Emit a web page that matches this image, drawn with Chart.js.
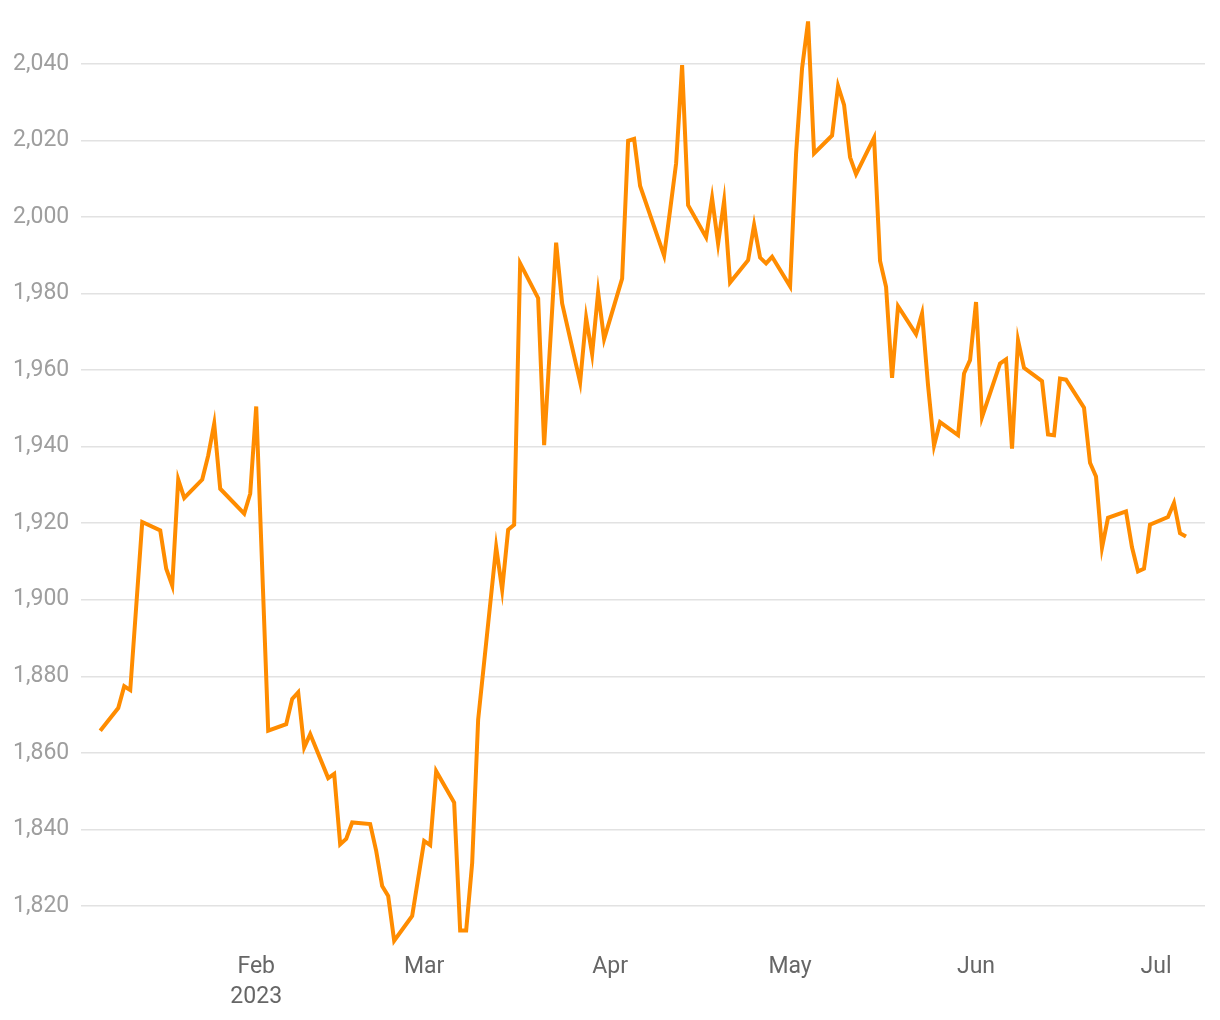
<!DOCTYPE html>
<html>
<head>
<meta charset="utf-8">
<script src="https://cdn.jsdelivr.net/npm/chart.js@4"></script>
<style>
  html, body { margin: 0; padding: 0; background: #fff; }
  #wrap { width: 1220px; height: 1020px; }
</style>
</head>
<body>
<div id="wrap"><canvas id="priceChart"></canvas></div>
<script>
// daily closing values
const dates = [
  '2023-01-06','2023-01-09','2023-01-10','2023-01-11','2023-01-13','2023-01-16','2023-01-17','2023-01-18',
  '2023-01-19','2023-01-20','2023-01-23','2023-01-24','2023-01-25','2023-01-26','2023-01-30','2023-01-31',
  '2023-02-01','2023-02-03','2023-02-06','2023-02-07','2023-02-08','2023-02-09','2023-02-10','2023-02-13',
  '2023-02-14','2023-02-15','2023-02-16','2023-02-17','2023-02-20','2023-02-21','2023-02-22','2023-02-23',
  '2023-02-24','2023-02-27','2023-03-01','2023-03-02','2023-03-03','2023-03-06','2023-03-07','2023-03-08',
  '2023-03-09','2023-03-10','2023-03-13','2023-03-14','2023-03-15','2023-03-16','2023-03-17','2023-03-20',
  '2023-03-21','2023-03-23','2023-03-24','2023-03-27','2023-03-28','2023-03-29','2023-03-30','2023-03-31',
  '2023-04-03','2023-04-04','2023-04-05','2023-04-06','2023-04-10','2023-04-11','2023-04-12','2023-04-13',
  '2023-04-14','2023-04-17','2023-04-18','2023-04-19','2023-04-20','2023-04-21','2023-04-24','2023-04-25',
  '2023-04-26','2023-04-27','2023-04-28','2023-05-01','2023-05-02','2023-05-03','2023-05-04','2023-05-05',
  '2023-05-08','2023-05-09','2023-05-10','2023-05-11','2023-05-12','2023-05-15','2023-05-16','2023-05-17',
  '2023-05-18','2023-05-19','2023-05-22','2023-05-23','2023-05-24','2023-05-25','2023-05-26','2023-05-29',
  '2023-05-30','2023-05-31','2023-06-01','2023-06-02','2023-06-05','2023-06-06','2023-06-07','2023-06-08',
  '2023-06-09','2023-06-12','2023-06-13','2023-06-14','2023-06-15','2023-06-16','2023-06-19','2023-06-20',
  '2023-06-21','2023-06-22','2023-06-23','2023-06-26','2023-06-27','2023-06-28','2023-06-29','2023-06-30',
  '2023-07-03','2023-07-04','2023-07-05','2023-07-06'
];
const prices = [
  1865.8,1871.7,1877.4,1876.4,1920.3,1918.1,1908.1,1903.7,
  1931.4,1926.6,1931.4,1937.7,1946.0,1929.0,1922.5,1927.7,
  1950.5,1865.8,1867.5,1874.1,1875.8,1861.4,1864.9,1853.4,
  1854.5,1836.1,1837.5,1841.8,1841.4,1834.4,1825.2,1822.6,
  1810.9,1817.4,1837.0,1835.9,1855.2,1847.0,1813.6,1813.6,
  1831.2,1868.7,1913.8,1902.6,1918.3,1919.6,1987.9,1978.8,
  1940.4,1993.3,1977.4,1956.8,1973.7,1964.2,1980.3,1968.1,
  1983.9,2019.9,2020.4,2008.1,1989.9,2001.8,2014.0,2039.7,
  2003.1,1994.7,2005.0,1993.1,2004.2,1982.9,1988.7,1997.9,
  1989.4,1987.9,1989.6,1981.9,2016.6,2038.9,2051.1,2016.6,
  2021.3,2034.2,2029.3,2015.6,2011.2,2020.7,1988.5,1981.8,
  1958.0,1976.7,1969.4,1974.8,1956.0,1940.3,1946.4,1943.0,
  1959.1,1962.6,1977.8,1947.7,1961.7,1962.8,1939.5,1967.8,
  1960.6,1957.1,1943.2,1943.0,1957.8,1957.5,1950.2,1935.8,
  1932.2,1913.6,1921.4,1923.1,1913.7,1907.4,1908.1,1919.6,
  1921.6,1925.3,1917.4,1916.5
];
const monthTicks = ['2023-02-01','2023-03-01','2023-04-01','2023-05-01','2023-06-01','2023-07-01'];
const monthLabels = [['Feb','2023'],'Mar','Apr','May','Jun','Jul'];

// days since 1 Jan 2023
const dayNum = s => {
  const [y, m, d] = s.split('-').map(Number);
  return (Date.UTC(y, m - 1, d) - Date.UTC(2023, 0, 1)) / 86400000;
};

const points = dates.map((d, i) => ({ x: dayNum(d), y: prices[i] }));
const tickDays = monthTicks.map(dayNum);

const ctx = document.getElementById('priceChart').getContext('2d');
new Chart(ctx, {
  type: 'line',
  data: {
    datasets: [{
      data: points,
      borderColor: '#ff8c00',
      borderWidth: 4,
      pointRadius: 0,
      tension: 0,
      fill: false,
      clip: 8
    }]
  },
  options: {
    responsive: true,
    maintainAspectRatio: false,
    animation: false,
    layout: { padding: { left: 1, right: 15, top: 18, bottom: 0 } },
    plugins: {
      legend: { display: false },
      tooltip: { enabled: false }
    },
    scales: {
      x: {
        type: 'linear',
        min: 1.83,
        max: 189.17,
        border: { display: false },
        grid: { display: false, drawTicks: false },
        afterBuildTicks: scale => {
          scale.ticks = tickDays.map(v => ({ value: v }));
        },
        ticks: {
          autoSkip: false,
          maxRotation: 0,
          padding: 8,
          color: '#666',
          font: { family: 'Roboto', size: 23, lineHeight: 1.3 },
          callback: (value, index) => monthLabels[index]
        }
      },
      y: {
        min: 1810,
        max: 2052,
        border: { display: false },
        grid: { color: '#e2e2e2', lineWidth: 1.5, drawTicks: false },
        afterFit: scale => {
          // no extra room for half-labels at the ends
          scale.paddingTop = 0;
          scale.paddingBottom = 0;
        },
        ticks: {
          stepSize: 20,
          includeBounds: false,
          padding: 12,
          color: '#9e9e9e',
          font: { family: 'Roboto', size: 23 },
          callback: value => value.toLocaleString('en-US')
        }
      }
    }
  }
});
</script>
</body>
</html>
